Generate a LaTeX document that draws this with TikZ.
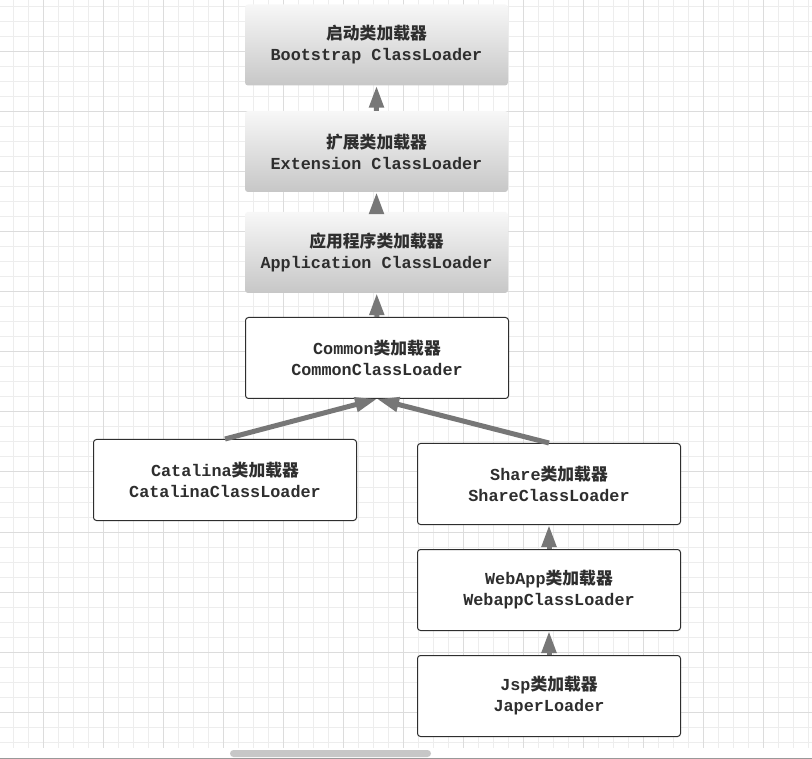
\documentclass[tikz,border=0pt]{standalone}
\usepackage{fontspec}
\setmonofont{Liberation Mono}
\newfontfamily\cjk{Noto Sans CJK SC Bold}
\usetikzlibrary{arrows.meta}
\definecolor{gridminor}{HTML}{EDEDED}
\definecolor{gridmajor}{HTML}{DCDCDC}
\definecolor{arrowgray}{HTML}{777777}
\definecolor{textgray}{HTML}{2E2E2E}
\newcommand{\zh}[1]{{\cjk #1}}

\begin{document}
\begin{tikzpicture}[x=1pt,y=-1pt,
  loader/.style={minimum width=263pt,minimum height=81pt,rounded corners=3pt,align=center,inner sep=0pt,text=textgray,font=\fontsize{16.8}{21}\selectfont\ttfamily\bfseries},
  shadedbox/.style={loader,top color=black!3,bottom color=black!22},
  plainbox/.style={loader,draw=textgray,fill=white,line width=1pt},
  up/.style={-{Triangle[length=22pt,width=14pt]},line width=5pt,arrowgray}]
\useasboundingbox (0,0) rectangle (812,759);
\fill[white] (0,0) rectangle (812,759);
\foreach \x in {13,28,...,808} \draw[gridminor,line width=1pt] (\x,0) -- (\x,748);
\foreach \y in {7,22,...,742} \draw[gridminor,line width=1pt] (0,\y) -- (812,\y);
\foreach \x in {43,103,...,763} \draw[gridmajor,line width=1pt] (\x,0) -- (\x,748);
\foreach \y in {52,112,...,712} \draw[gridmajor,line width=1pt] (0,\y) -- (812,\y);
\fill[black!22,rounded corners=3.5pt] (230,750) rectangle (431,757);
\draw[black!40,line width=1pt] (0,758.5) -- (812,758.5);

\node[shadedbox] (boot) at (376.5,45) {\zh{启动类加载器}\\Bootstrap ClassLoader};
\node[shadedbox] (ext) at (376.5,151.5) {\zh{扩展类加载器}\\Extension ClassLoader};
\node[shadedbox] (app) at (376.5,252.5) {\zh{应用程序类加载器}\\Application ClassLoader};
\node[plainbox] (common) at (377,358) {Common\zh{类加载器}\\CommonClassLoader};
\node[plainbox] (catalina) at (225,480) {Catalina\zh{类加载器}\\CatalinaClassLoader};
\node[plainbox] (share) at (549,484) {Share\zh{类加载器}\\ShareClassLoader};
\node[plainbox] (webapp) at (549,590) {WebApp\zh{类加载器}\\WebappClassLoader};
\node[plainbox] (jsp) at (549,696) {Jsp\zh{类加载器}\\JaperLoader};

\draw[up] (ext) -- (boot);
\draw[up] (app) -- (ext);
\draw[up] (common) -- (app);
\draw[up] (catalina.north) -- (common.south);
\draw[up] (share.north) -- (common.south);
\draw[up] (webapp) -- (share);
\draw[up] (jsp) -- (webapp);
\end{tikzpicture}
\end{document}
